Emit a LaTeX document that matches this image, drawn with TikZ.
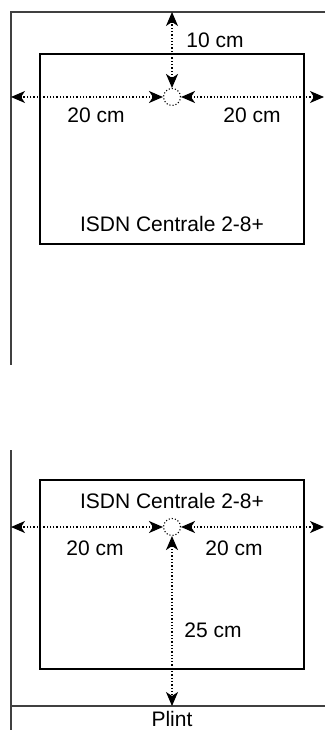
\documentclass[tikz,border=0pt]{standalone}
\usepackage{fontspec}
\setmainfont{Liberation Sans}
\usetikzlibrary{arrows.meta}

\tikzset{
  wall/.style={draw=black!75,line width=1.2pt},
  cabinet/.style={draw,line width=1.6pt,minimum width=264pt,minimum height=190pt,inner sep=0pt},
  spot/.style={draw,dotted,circle,minimum size=17pt,inner sep=0pt,line width=1.1pt},
  dim/.style={dotted,line width=1.3pt,{Stealth[length=14pt,width=12pt,inset=4pt]}-{Stealth[length=14pt,width=12pt,inset=4pt]}},
  lbl/.style={anchor=base,font=\fontsize{21}{25}\selectfont}
}

\begin{document}
\begin{tikzpicture}[x=1pt,y=-1pt]
 \useasboundingbox (0,0) rectangle (325,730);

 % wall mounting
 \coordinate (tr) at (325,12);
 \coordinate (tl) at (11,12);
 \coordinate (bl) at (11,365);
 \draw [wall] (tr) -- (tl) -- (bl);

 \node [cabinet] (box1) at (172,149) {};
 \node [lbl] (name1) at (172,231) {ISDN Centrale 2-8+};
 \node [spot] (c1) at (172,97) {};

 \coordinate (up1) at (172,12);
 \coordinate (left1) at (11,97);
 \coordinate (right1) at (324,97);

 \draw [dim] (c1.north) -- (up1);
 \draw [dim] (c1.west) -- (left1);
 \draw [dim] (c1.east) -- (right1);

 \node [lbl] (d10) at (215,48) {10 cm};
 \node [lbl] (d20l1) at (96,123) {20 cm};
 \node [lbl] (d20r1) at (252,123) {20 cm};

 % floor mounting
 \coordinate (wt) at (11,450);
 \coordinate (wb) at (11,730);
 \coordinate (pl) at (11,706);
 \coordinate (pr) at (325,706);
 \draw [wall] (wt) -- (wb);
 \draw [wall] (pl) -- (pr);

 \node [cabinet,minimum height=189pt] (box2) at (172,574.5) {};
 \node [lbl] (name2) at (172,508) {ISDN Centrale 2-8+};
 \node [spot] (c2) at (172,527) {};

 \coordinate (down2) at (172,706);
 \coordinate (left2) at (11,527);
 \coordinate (right2) at (324,527);

 \draw [dim] (c2.south) -- (down2);
 \draw [dim] (c2.west) -- (left2);
 \draw [dim] (c2.east) -- (right2);

 \node [lbl] (d20l2) at (95,555) {20 cm};
 \node [lbl] (d20r2) at (234,555) {20 cm};
 \node [lbl] (d25) at (213,637) {25 cm};
 \node [lbl] (plint) at (172,726) {Plint};
\end{tikzpicture}
\end{document}
